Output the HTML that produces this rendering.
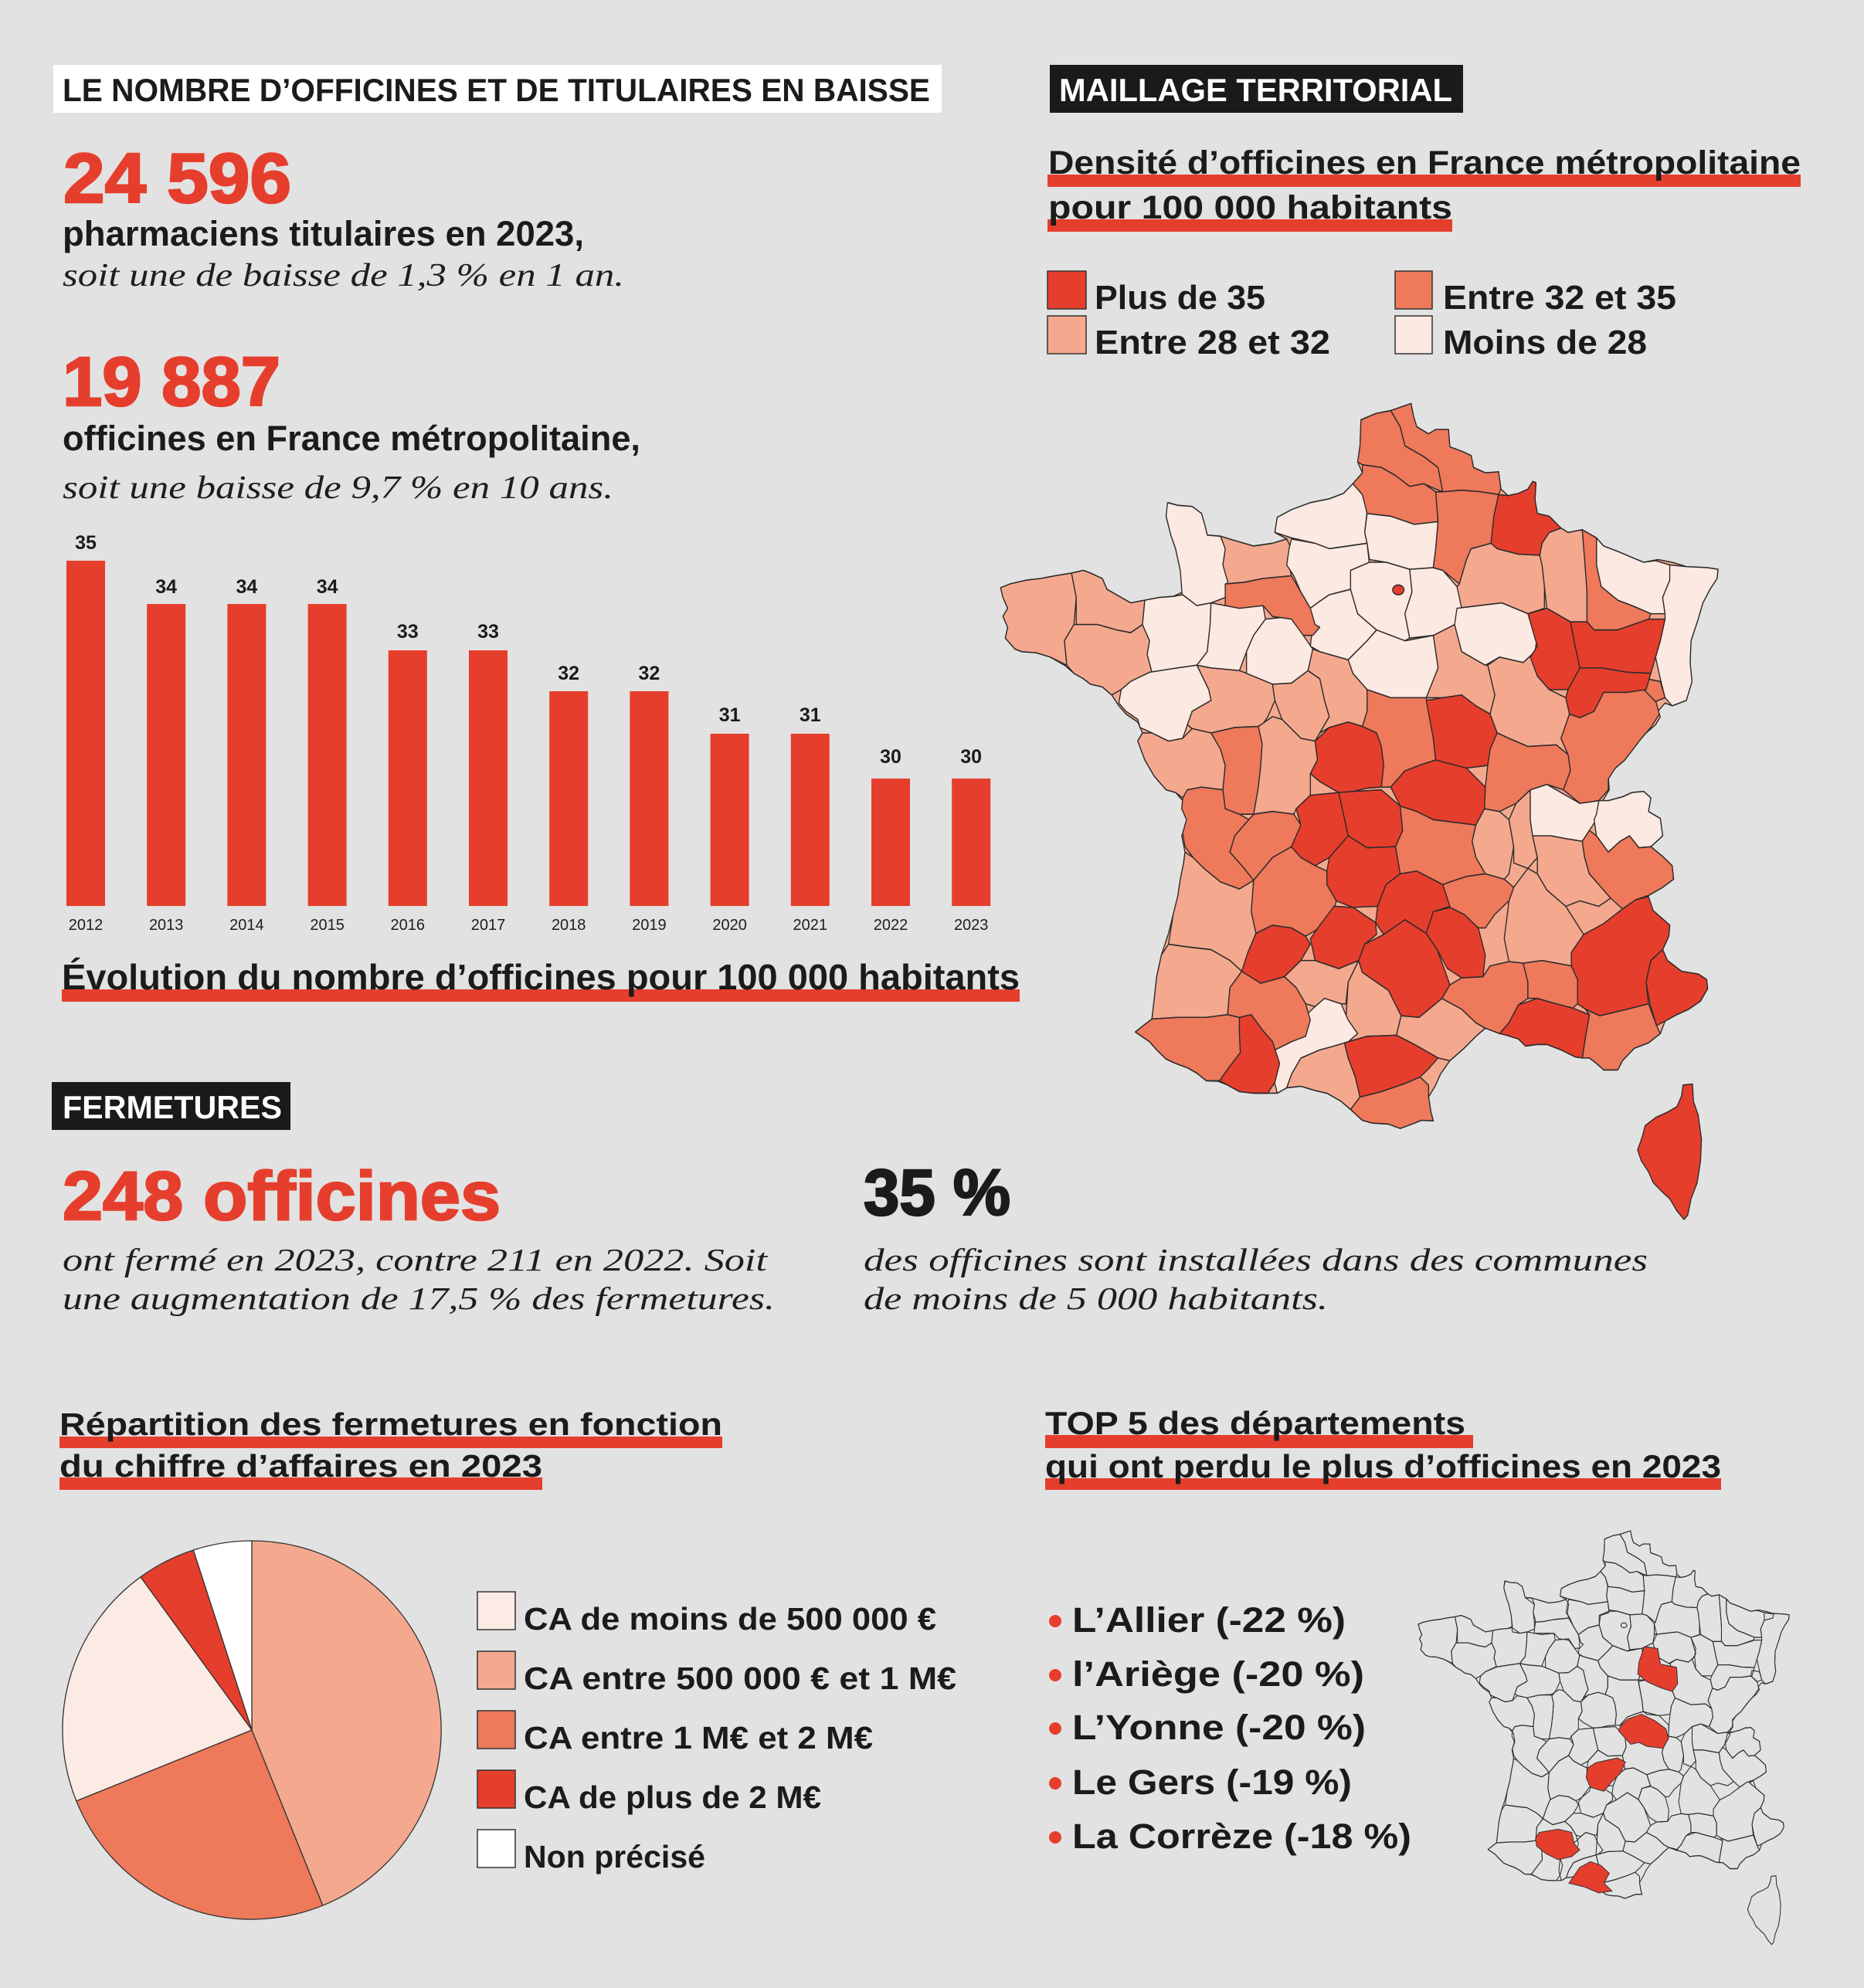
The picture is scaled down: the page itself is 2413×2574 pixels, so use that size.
<!DOCTYPE html>
<html><head><meta charset="utf-8"><style>
html,body{margin:0;padding:0;background:#e2e2e2}
svg{display:block}
.b{font-family:"Liberation Sans",Arial,sans-serif;font-weight:700;fill:#1b1b1b}
.i{font-family:"Liberation Serif",serif;font-style:italic;fill:#1e1e1e}
.w{fill:#fff}
.rd{fill:#e63e2d}
</style></head><body>
<svg xmlns="http://www.w3.org/2000/svg" xmlns:xlink="http://www.w3.org/1999/xlink" width="2413" height="2574" viewBox="0 0 2413 2574">
<defs>
<g id="geo" stroke="#2b2b2b" stroke-linejoin="round">
<g style="fill:var(--S)">
<polygon points="787,62 820,50 850,45 893,32 898,55 905,75 930,88 945,80 972,80 975,112 1000,120 1020,128 1025,150 1050,160 1078,158 1083,190 1098,202 1120,198 1140,190 1150,176 1157,178 1155,210 1160,235 1185,240 1210,262 1225,270 1255,265 1285,280 1300,295 1330,305 1365,318 1385,325 1415,320 1445,325 1475,333 1520,335 1542,338 1540,355 1525,375 1510,400 1500,430 1485,470 1483,510 1487,545 1475,580 1445,590 1430,585 1415,600 1420,610 1410,625 1390,640 1370,660 1345,690 1325,705 1310,720 1312,745 1295,770 1310,765 1340,758 1360,750 1385,748 1400,760 1395,785 1420,798 1425,830 1400,850 1425,868 1445,885 1448,910 1425,925 1395,940 1380,950 1405,968 1440,995 1438,1015 1425,1040 1435,1060 1465,1080 1500,1085 1518,1095 1520,1112 1505,1135 1480,1150 1455,1160 1430,1172 1420,1195 1395,1212 1365,1222 1340,1245 1330,1262 1300,1262 1285,1250 1270,1240 1240,1238 1210,1225 1180,1215 1160,1215 1135,1218 1120,1205 1095,1198 1075,1190 1050,1185 1030,1200 1005,1222 975,1245 955,1270 945,1290 930,1312 935,1340 940,1356 915,1355 895,1362 870,1370 845,1362 810,1360 790,1355 765,1335 745,1320 715,1305 690,1300 660,1292 630,1295 610,1305 590,1305 560,1305 530,1302 505,1290 485,1283 460,1282 440,1268 420,1258 395,1250 375,1242 355,1225 340,1210 310,1192 330,1178 345,1168 350,1130 355,1090 365,1050 380,1010 390,975 400,940 405,910 412,880 415,860 408,830 420,800 415,770 395,750 375,745 350,720 330,690 315,655 325,640 315,620 290,605 275,590 260,570 240,555 215,550 200,540 180,530 160,515 130,500 100,492 70,490 55,485 35,465 40,445 30,425 40,410 30,390 25,372 45,365 80,358 110,355 140,350 175,345 200,340 215,345 240,355 250,375 270,385 300,400 330,395 360,390 390,388 410,380 405,340 395,300 385,275 375,240 380,215 400,220 430,222 450,235 458,260 462,275 490,277 520,285 560,295 600,290 630,282 605,270 610,242 640,228 680,215 720,208 750,198 770,180 790,160 780,140 785,110"/>
<polygon points="25,372 45,365 80,358 110,355 140,350 175,345 185,390 180,440 160,470 165,515 130,500 100,492 70,490 55,485 35,465 40,445 30,425 40,410 30,390"/>
<polygon points="175,345 200,340 215,345 240,355 250,375 270,385 300,400 330,395 325,440 300,455 270,450 230,440 185,440 185,390"/>
<polygon points="185,440 230,440 270,450 300,455 325,440 340,470 335,495 345,528 300,545 280,560 260,570 240,555 215,550 200,540 180,530 165,515 160,470 180,440"/>
<polygon points="462,275 490,277 520,285 560,295 600,290 630,282 640,300 635,330 640,350 580,355 540,362 500,365 495,330 500,300"/>
<polygon points="440,515 470,520 530,525 545,530 600,550 605,580 590,610 575,630 520,630 470,640 430,632 420,625 430,600 470,580 465,560"/>
<polygon points="600,550 640,548 675,525 700,540 710,580 720,610 700,640 690,655 660,650 620,615 605,580"/>
<polygon points="675,525 685,485 700,490 760,505 770,530 800,560 800,600 790,628 760,620 720,630 700,640 720,610 710,580 700,540"/>
<polygon points="315,655 325,640 345,640 380,655 410,650 430,632 470,640 490,670 500,700 495,745 450,740 420,745 410,760 395,750 375,745 350,720 330,690"/>
<polygon points="570,628 600,610 620,615 660,650 690,655 695,690 680,715 680,755 650,780 645,790 600,785 560,790 570,740 575,700 578,660"/>
<polygon points="415,860 432,870 455,890 490,915 530,928 560,912 555,970 565,1010 548,1045 535,1080 510,1060 470,1040 420,1035 380,1030 390,975 400,940 405,910 412,880"/>
<polygon points="345,1168 350,1130 355,1090 365,1050 380,1030 420,1035 470,1040 510,1060 535,1080 510,1110 505,1160 460,1165 400,1165"/>
<polygon points="1062,290 1075,300 1120,310 1165,312 1170,330 1175,370 1175,410 1140,420 1085,400 990,410 990,370 995,365 1010,320 1020,300"/>
<polygon points="1165,312 1170,290 1185,270 1210,262 1225,270 1255,265 1260,320 1265,380 1265,435 1230,435 1180,410 1175,370 1170,330"/>
<polygon points="1055,515 1080,500 1130,510 1155,490 1160,535 1185,560 1220,575 1228,605 1210,650 1225,680 1200,662 1140,665 1100,650 1075,640 1060,605 1070,570"/>
<polygon points="925,575 950,520 940,460 985,440 1000,490 1050,515 1055,515 1070,570 1060,605 1030,590 1000,570 960,575"/>
<polygon points="1030,810 1048,780 1080,785 1100,800 1110,850 1100,900 1090,910 1050,900 1030,870 1022,840"/>
<polygon points="1100,800 1115,770 1145,745 1145,800 1150,830 1160,870 1140,890 1110,880 1110,850"/>
<polygon points="1150,830 1190,830 1220,835 1255,840 1260,870 1270,900 1290,920 1315,945 1290,960 1250,950 1220,960 1180,930 1160,900 1160,870"/>
<polygon points="1110,925 1140,890 1160,900 1180,930 1220,960 1258,1012 1232,1045 1232,1070 1170,1060 1130,1065 1100,1062 1090,1020 1100,950"/>
<polygon points="782,1060 790,1082 845,1115 872,1162 862,1198 800,1200 752,1212 755,1170 760,1100"/>
<polygon points="872,1162 910,1165 958,1130 1000,1150 1030,1175 1050,1185 1030,1200 1005,1222 975,1245 950,1240 900,1215 862,1198"/>
<polygon points="660,1060 690,1060 740,1075 782,1060 760,1100 755,1140 745,1140 710,1130 690,1145 670,1140 650,1110 625,1090"/>
<polygon points="640,1270 660,1240 700,1225 752,1212 760,1240 775,1275 785,1312 765,1335 745,1320 715,1305 690,1300 660,1292 630,1295"/>
</g>
<g style="fill:var(--L)">
<polygon points="378,215 400,220 430,222 450,235 458,260 462,275 490,277 500,300 495,330 505,360 500,390 470,400 440,405 410,400 405,340 395,300 385,275 375,240"/>
<polygon points="330,395 360,390 390,388 410,385 440,405 470,400 468,440 462,490 440,515 400,520 345,528 335,495 340,470 325,440"/>
<polygon points="470,400 500,405 580,405 585,430 560,460 545,490 530,525 470,520 440,515 462,490 468,440"/>
<polygon points="585,430 640,425 665,460 685,485 675,525 640,548 600,550 545,530 545,490 560,460"/>
<polygon points="280,560 300,545 340,528 400,520 440,515 465,560 470,580 430,600 420,625 410,650 380,655 345,640 320,630 315,615 290,600 275,585"/>
<polygon points="605,270 610,242 640,228 680,215 720,208 750,198 770,180 790,200 800,230 795,270 800,290 760,295 720,300 690,290 640,280"/>
<polygon points="640,282 690,290 720,300 760,295 800,290 805,330 770,340 765,375 720,385 695,400 680,410 660,380 645,350 630,330 635,300"/>
<polygon points="800,235 850,240 900,255 950,250 945,300 940,335 890,338 840,325 805,320 800,290 795,270"/>
<polygon points="680,410 695,400 720,385 765,375 780,420 820,450 800,470 760,505 700,490 680,480 685,440"/>
<polygon points="765,340 805,325 840,325 890,338 895,380 880,420 890,465 880,470 820,450 780,420 765,375"/>
<polygon points="890,338 940,335 960,340 990,370 1000,410 985,440 940,460 890,465 880,420 895,380"/>
<polygon points="800,470 820,450 880,470 940,460 950,520 925,575 850,575 800,560 770,530 760,505"/>
<polygon points="990,410 1085,400 1140,420 1160,460 1155,490 1130,510 1080,500 1050,515 1000,490 985,440"/>
<polygon points="1285,280 1300,295 1330,305 1365,318 1385,325 1410,322 1440,330 1478,335 1475,350 1440,358 1425,390 1430,420 1400,420 1360,405 1330,395 1295,370 1285,330"/>
<polygon points="1440,330 1475,333 1520,335 1542,338 1540,355 1525,375 1510,400 1500,430 1485,470 1483,510 1487,545 1475,580 1445,590 1430,575 1420,540 1410,500 1420,470 1430,430 1430,420 1425,390 1440,358"/>
<polygon points="1145,745 1180,735 1210,750 1250,770 1290,765 1300,775 1285,800 1270,820 1255,840 1220,835 1190,830 1150,830 1145,800"/>
<polygon points="1290,765 1310,765 1340,758 1360,750 1385,748 1400,760 1395,785 1420,798 1425,830 1400,850 1375,852 1355,830 1335,840 1310,860 1285,830 1280,800 1285,790"/>
<polygon points="610,1305 600,1270 605,1225 640,1210 660,1170 690,1145 710,1130 745,1140 760,1170 780,1195 760,1210 730,1218 700,1225 660,1240 640,1270 630,1295"/>
</g>
<g style="fill:var(--O)">
<polygon points="787,62 820,50 850,45 870,75 880,110 920,130 950,150 960,195 945,190 920,180 890,185 860,165 830,150 790,145 780,140 785,110"/>
<polygon points="850,45 893,32 898,55 905,75 930,88 945,80 972,80 975,112 1000,120 1020,128 1025,150 1050,160 1078,158 1083,190 1078,200 1040,195 1000,192 960,195 950,150 920,130 880,110 870,75"/>
<polygon points="790,145 830,150 860,165 890,185 920,180 945,195 950,250 900,255 850,240 800,235 790,200 770,180 790,160"/>
<polygon points="945,195 960,195 1000,192 1040,195 1078,200 1068,240 1062,290 1020,300 1010,320 995,365 960,340 940,335 945,300 950,250"/>
<polygon points="500,365 540,362 580,355 640,350 660,380 680,410 690,440 700,445 685,460 665,460 640,430 600,425 580,405 530,410 500,405"/>
<polygon points="1255,265 1285,280 1285,330 1295,370 1330,395 1360,405 1400,420 1395,432 1330,450 1280,450 1265,435 1265,380 1260,320"/>
<polygon points="470,640 520,630 570,628 578,660 575,700 570,740 560,790 530,790 500,780 495,745 500,700 490,670"/>
<polygon points="410,760 420,745 450,740 495,745 500,780 530,790 550,800 520,830 510,860 540,890 560,912 530,928 490,915 455,890 432,870 415,850 410,825 418,800 408,780"/>
<polygon points="520,830 550,800 560,790 600,785 645,790 660,810 640,850 600,870 560,912 540,890 510,860"/>
<polygon points="560,912 600,870 640,850 660,870 690,885 715,895 715,920 735,950 725,980 690,1005 670,1015 640,1000 600,995 565,1010 555,970"/>
<polygon points="800,560 850,575 925,575 940,650 945,690 910,700 880,710 850,740 830,740 835,700 830,665 820,640 790,628 800,600"/>
<polygon points="1055,700 1060,670 1075,640 1100,650 1140,665 1200,662 1225,680 1230,710 1215,745 1180,735 1145,745 1115,770 1080,785 1048,780 1050,740"/>
<polygon points="1228,605 1250,612 1280,600 1300,565 1350,565 1385,560 1410,580 1418,605 1400,630 1380,650 1345,690 1325,705 1310,725 1310,745 1290,765 1250,770 1215,745 1230,710 1225,680 1210,650"/>
<polygon points="1390,540 1420,545 1430,575 1410,582 1385,560"/>
<polygon points="870,775 905,785 940,800 985,805 1030,810 1022,840 1030,870 1050,900 1010,905 975,915 960,920 905,895 870,900 860,850 875,820"/>
<polygon points="975,915 1010,905 1050,900 1090,910 1110,925 1100,950 1070,975 1050,1000 1035,1000 1005,975 975,962 960,920"/>
<polygon points="958,1130 975,1105 1000,1092 1045,1090 1060,1070 1100,1062 1130,1065 1140,1100 1140,1130 1120,1142 1100,1175 1080,1195 1050,1185 1030,1175 1000,1150"/>
<polygon points="1255,840 1270,820 1285,830 1310,860 1335,840 1355,830 1375,852 1400,850 1425,868 1445,885 1448,910 1425,925 1395,940 1368,948 1340,965 1315,945 1290,920 1270,900 1260,870"/>
<polygon points="1130,1065 1170,1060 1232,1070 1245,1095 1245,1140 1235,1148 1200,1140 1160,1130 1140,1130 1140,1100"/>
<polygon points="1262,1150 1292,1162 1340,1152 1395,1140 1412,1180 1420,1195 1395,1212 1365,1222 1340,1245 1330,1262 1300,1262 1285,1250 1270,1240 1255,1240 1262,1200 1270,1160"/>
<polygon points="310,1192 330,1178 345,1168 400,1165 460,1165 505,1160 530,1165 530,1195 532,1230 510,1255 488,1282 460,1282 440,1268 420,1258 395,1250 375,1242 355,1225 340,1210"/>
<polygon points="510,1110 535,1080 575,1102 625,1090 650,1110 670,1140 680,1170 670,1200 640,1210 605,1225 600,1210 580,1190 555,1160 530,1165 505,1160"/>
<polygon points="785,1312 830,1302 880,1287 912,1275 930,1290 930,1312 935,1340 940,1356 915,1355 895,1362 870,1370 845,1362 810,1360 790,1355 765,1335"/>
</g>
<g style="fill:var(--R)">
<polygon points="1078,200 1098,202 1120,198 1140,190 1150,176 1157,178 1155,210 1160,235 1185,240 1210,262 1185,270 1170,290 1165,312 1120,310 1075,300 1062,290 1068,240"/>
<polygon points="1140,420 1180,410 1230,435 1240,480 1250,520 1225,560 1185,560 1160,535 1145,500 1160,480"/>
<polygon points="1230,435 1265,435 1280,450 1330,450 1395,430 1430,430 1420,470 1410,500 1400,530 1350,528 1295,520 1250,520 1240,480"/>
<polygon points="1225,560 1250,520 1295,520 1350,528 1400,530 1390,560 1350,565 1300,565 1280,600 1250,612 1228,605 1220,575"/>
<polygon points="690,655 720,630 760,620 790,628 820,640 830,665 835,700 830,740 800,742 770,748 740,750 700,730 680,715 695,690"/>
<polygon points="925,580 960,575 1000,570 1030,590 1060,605 1075,640 1060,670 1055,700 1010,705 960,700 945,690 940,650"/>
<polygon points="850,740 880,710 910,700 945,690 1010,705 1050,740 1048,780 1030,810 985,805 940,800 905,785 870,775"/>
<polygon points="640,850 660,810 650,780 680,755 740,750 760,830 720,870 690,885 660,870"/>
<polygon points="740,750 770,748 830,745 870,775 875,820 860,850 800,852 760,830"/>
<polygon points="715,895 720,870 760,830 800,852 860,850 870,900 840,920 822,960 770,962 735,950 715,920"/>
<polygon points="822,960 840,920 870,900 905,895 960,920 975,960 940,970 925,1010 880,985 835,1012 818,990"/>
<polygon points="925,1010 940,970 975,962 1005,975 1035,1000 1050,1050 1045,1090 1000,1092 970,1075 948,1040"/>
<polygon points="680,1020 700,995 730,960 770,962 818,990 820,1012 795,1030 782,1060 740,1075 690,1060"/>
<polygon points="795,1030 835,1012 880,985 925,1010 948,1040 965,1080 975,1105 958,1130 910,1165 872,1162 845,1115 790,1082 782,1060"/>
<polygon points="535,1080 548,1045 565,1010 600,995 640,1000 670,1015 680,1030 660,1060 625,1090 575,1102"/>
<polygon points="530,1165 555,1160 580,1190 600,1210 615,1250 605,1285 590,1305 560,1305 530,1302 505,1290 488,1282 510,1255 532,1230 530,1195"/>
<polygon points="752,1212 800,1200 862,1198 900,1215 950,1240 930,1260 912,1275 880,1287 830,1302 785,1312 775,1275 760,1240"/>
<polygon points="1080,1195 1100,1175 1120,1142 1160,1130 1200,1140 1235,1148 1270,1160 1262,1200 1255,1240 1240,1238 1210,1225 1180,1215 1160,1215 1135,1218 1120,1205 1095,1198"/>
<polygon points="1232,1045 1258,1012 1300,992 1340,965 1368,948 1395,942 1405,968 1440,995 1438,1015 1425,1040 1400,1060 1390,1100 1395,1140 1340,1152 1292,1162 1262,1150 1245,1140 1245,1095 1232,1070"/>
<polygon points="1400,1060 1425,1040 1435,1060 1465,1080 1500,1085 1518,1095 1520,1112 1505,1135 1480,1150 1455,1160 1430,1172 1412,1180 1398,1140 1390,1100"/>
<polygon points="1468,1290 1488,1288 1490,1320 1500,1345 1507,1390 1505,1430 1498,1470 1485,1500 1478,1530 1470,1538 1455,1522 1440,1500 1425,1488 1405,1470 1395,1450 1380,1430 1372,1410 1382,1385 1388,1365 1410,1350 1435,1340 1455,1330 1465,1310"/>
<ellipse cx="866" cy="376" rx="12" ry="9"/>
</g>
</g>
</defs>

<rect width="2413" height="2574" fill="#e2e2e2"/>

<!-- Header left -->
<rect x="69" y="84" width="1150" height="62" fill="#ffffff"/>
<text x="81" y="131" font-size="42" class="b" textLength="1123" lengthAdjust="spacingAndGlyphs">LE NOMBRE D’OFFICINES ET DE TITULAIRES EN BAISSE</text>

<text x="82" y="262" font-size="91" class="b rd" stroke="#e63e2d" stroke-width="2.5" textLength="295" lengthAdjust="spacingAndGlyphs">24 596</text>
<text x="81" y="318" font-size="45" class="b" textLength="675" lengthAdjust="spacingAndGlyphs">pharmaciens titulaires en 2023,</text>
<text x="81" y="370" font-size="42" class="i" textLength="727" lengthAdjust="spacingAndGlyphs">soit une de baisse de 1,3 % en 1 an.</text>

<text x="81" y="525" font-size="90" class="b rd" stroke="#e63e2d" stroke-width="2.5" textLength="282" lengthAdjust="spacingAndGlyphs">19 887</text>
<text x="81" y="583" font-size="45" class="b" textLength="748" lengthAdjust="spacingAndGlyphs">officines en France métropolitaine,</text>
<text x="81" y="645" font-size="42" class="i" textLength="713" lengthAdjust="spacingAndGlyphs">soit une baisse de 9,7 % en 10 ans.</text>

<!-- Bars -->
<g fill="#e63e2d">
<rect x="86" y="726" width="50" height="447"/>
<rect x="190.2" y="782" width="50" height="391"/>
<rect x="294.4" y="782" width="50" height="391"/>
<rect x="398.6" y="782" width="50" height="391"/>
<rect x="502.8" y="842" width="50" height="331"/>
<rect x="607" y="842" width="50" height="331"/>
<rect x="711.2" y="895" width="50" height="278"/>
<rect x="815.4" y="895" width="50" height="278"/>
<rect x="919.6" y="950" width="50" height="223"/>
<rect x="1023.8" y="950" width="50" height="223"/>
<rect x="1128" y="1008" width="50" height="165"/>
<rect x="1232.2" y="1008" width="50" height="165"/>
</g>
<g class="b" font-size="25" text-anchor="middle">
<text x="111" y="711" class="b">35</text>
<text x="215.2" y="768" class="b">34</text>
<text x="319.4" y="768" class="b">34</text>
<text x="423.6" y="768" class="b">34</text>
<text x="527.8" y="826" class="b">33</text>
<text x="632" y="826" class="b">33</text>
<text x="736.2" y="880" class="b">32</text>
<text x="840.4" y="880" class="b">32</text>
<text x="944.6" y="934" class="b">31</text>
<text x="1048.8" y="934" class="b">31</text>
<text x="1153" y="988" class="b">30</text>
<text x="1257.2" y="988" class="b">30</text>
</g>
<g font-family="Liberation Sans, Arial, sans-serif" font-size="20" fill="#1e1e1e" text-anchor="middle">
<text x="111" y="1204">2012</text>
<text x="215.2" y="1204">2013</text>
<text x="319.4" y="1204">2014</text>
<text x="423.6" y="1204">2015</text>
<text x="527.8" y="1204">2016</text>
<text x="632" y="1204">2017</text>
<text x="736.2" y="1204">2018</text>
<text x="840.4" y="1204">2019</text>
<text x="944.6" y="1204">2020</text>
<text x="1048.8" y="1204">2021</text>
<text x="1153" y="1204">2022</text>
<text x="1257.2" y="1204">2023</text>
</g>

<rect x="80" y="1281" width="1240" height="16" fill="#e63e2d"/>
<text x="80" y="1281" font-size="46" class="b" textLength="1240" lengthAdjust="spacingAndGlyphs">Évolution du nombre d’officines pour 100 000 habitants</text>

<!-- Right header -->
<rect x="1359" y="84" width="535" height="62" fill="#1a1a18"/>
<text x="1371" y="131" font-size="42" class="b w" textLength="509" lengthAdjust="spacingAndGlyphs">MAILLAGE TERRITORIAL</text>

<rect x="1356" y="226" width="975" height="16" fill="#e63e2d"/>
<text x="1357" y="225" font-size="43" class="b" textLength="974" lengthAdjust="spacingAndGlyphs">Densité d’officines en France métropolitaine</text>
<rect x="1356" y="284" width="524" height="16" fill="#e63e2d"/>
<text x="1357" y="283" font-size="43" class="b" textLength="523" lengthAdjust="spacingAndGlyphs">pour 100 000 habitants</text>

<!-- map legend -->
<g stroke="#333" stroke-width="1.5">
<rect x="1356" y="351" width="50" height="49" fill="#e63e2d"/>
<rect x="1806" y="351" width="48" height="49" fill="#ee795b"/>
<rect x="1356" y="409" width="50" height="49" fill="#f4a98f"/>
<rect x="1806" y="409" width="48" height="49" fill="#fce9e1"/>
</g>
<text x="1417" y="400" font-size="44" class="b" textLength="221" lengthAdjust="spacingAndGlyphs">Plus de 35</text>
<text x="1868" y="400" font-size="44" class="b" textLength="302" lengthAdjust="spacingAndGlyphs">Entre 32 et 35</text>
<text x="1417" y="458" font-size="44" class="b" textLength="305" lengthAdjust="spacingAndGlyphs">Entre 28 et 32</text>
<text x="1868" y="458" font-size="44" class="b" textLength="264" lengthAdjust="spacingAndGlyphs">Moins de 28</text>

<!-- Big map -->
<use xlink:href="#geo" href="#geo" transform="translate(1280,500) scale(0.6122,0.7015)" stroke-width="2.2" style="--S:#f4a98f;--L:#fce9e1;--O:#ee795b;--R:#e63e2d"/>

<!-- FERMETURES -->
<rect x="67" y="1401" width="309" height="62" fill="#1a1a18"/>
<text x="81" y="1448" font-size="42" class="b w" textLength="284" lengthAdjust="spacingAndGlyphs">FERMETURES</text>

<text x="81" y="1579" font-size="89" class="b rd" stroke="#e63e2d" stroke-width="2.5" textLength="567" lengthAdjust="spacingAndGlyphs">248 officines</text>
<text x="81" y="1645" font-size="41" class="i" textLength="912" lengthAdjust="spacingAndGlyphs">ont fermé en 2023, contre 211 en 2022. Soit</text>
<text x="81" y="1695" font-size="41" class="i" textLength="922" lengthAdjust="spacingAndGlyphs">une augmentation de 17,5 % des fermetures.</text>

<text x="1118" y="1573" font-size="84" class="b" stroke="#1b1b1b" stroke-width="2.5" textLength="190" lengthAdjust="spacingAndGlyphs">35 %</text>
<text x="1118" y="1645" font-size="41" class="i" textLength="1015" lengthAdjust="spacingAndGlyphs">des officines sont installées dans des communes</text>
<text x="1118" y="1695" font-size="41" class="i" textLength="601" lengthAdjust="spacingAndGlyphs">de moins de 5 000 habitants.</text>

<!-- Pie section -->
<rect x="77" y="1860" width="858" height="15" fill="#e63e2d"/>
<text x="77" y="1858" font-size="41" class="b" textLength="858" lengthAdjust="spacingAndGlyphs">Répartition des fermetures en fonction</text>
<rect x="77" y="1913" width="625" height="16" fill="#e63e2d"/>
<text x="77" y="1912" font-size="41" class="b" textLength="625" lengthAdjust="spacingAndGlyphs">du chiffre d’affaires en 2023</text>

<g stroke="#333" stroke-width="1.3" stroke-linejoin="round">
<path d="M326,2240 L326,1995 A245,245 0 0 1 417.8,2467.2 Z" fill="#f4a98f"/>
<path d="M326,2240 L417.8,2467.2 A245,245 0 0 1 98.8,2331.8 Z" fill="#ee795b"/>
<path d="M326,2240 L98.8,2331.8 A245,245 0 0 1 182,2041.8 Z" fill="#fcebe4"/>
<path d="M326,2240 L182,2041.8 A245,245 0 0 1 250.3,2007 Z" fill="#e63e2d"/>
<path d="M326,2240 L250.3,2007 A245,245 0 0 1 326,1995 Z" fill="#ffffff"/>
</g>

<g stroke="#333" stroke-width="1.5">
<rect x="618" y="2061" width="49" height="49" fill="#fcebe4"/>
<rect x="618" y="2138" width="49" height="49" fill="#f4a98f"/>
<rect x="618" y="2215" width="49" height="49" fill="#ee795b"/>
<rect x="618" y="2292" width="49" height="49" fill="#e63e2d"/>
<rect x="618" y="2369" width="49" height="49" fill="#ffffff"/>
</g>
<text x="678" y="2110" font-size="41" class="b" textLength="534" lengthAdjust="spacingAndGlyphs">CA de moins de 500 000 €</text>
<text x="678" y="2187" font-size="41" class="b" textLength="560" lengthAdjust="spacingAndGlyphs">CA entre 500 000 € et 1 M€</text>
<text x="678" y="2264" font-size="41" class="b" textLength="452" lengthAdjust="spacingAndGlyphs">CA entre 1 M€ et 2 M€</text>
<text x="678" y="2341" font-size="41" class="b" textLength="385" lengthAdjust="spacingAndGlyphs">CA de plus de 2 M€</text>
<text x="678" y="2418" font-size="41" class="b" textLength="235" lengthAdjust="spacingAndGlyphs">Non précisé</text>

<!-- Top 5 -->
<rect x="1353" y="1858" width="554" height="17" fill="#e63e2d"/>
<text x="1353" y="1857" font-size="42" class="b" textLength="544" lengthAdjust="spacingAndGlyphs">TOP 5 des départements</text>
<rect x="1353" y="1914" width="875" height="15" fill="#e63e2d"/>
<text x="1353" y="1913" font-size="42" class="b" textLength="875" lengthAdjust="spacingAndGlyphs">qui ont perdu le plus d’officines en 2023</text>

<g fill="#e63e2d">
<circle cx="1366" cy="2099" r="8"/>
<circle cx="1366" cy="2169" r="8"/>
<circle cx="1366" cy="2238" r="8"/>
<circle cx="1366" cy="2309" r="8"/>
<circle cx="1366" cy="2379" r="8"/>
</g>
<text x="1388" y="2113" font-size="45" class="b" textLength="354" lengthAdjust="spacingAndGlyphs">L’Allier (-22 %)</text>
<text x="1388" y="2183" font-size="45" class="b" textLength="378" lengthAdjust="spacingAndGlyphs">l’Ariège (-20 %)</text>
<text x="1388" y="2252" font-size="45" class="b" textLength="380" lengthAdjust="spacingAndGlyphs">L’Yonne (-20 %)</text>
<text x="1388" y="2323" font-size="45" class="b" textLength="362" lengthAdjust="spacingAndGlyphs">Le Gers (-19 %)</text>
<text x="1388" y="2393" font-size="45" class="b" textLength="439" lengthAdjust="spacingAndGlyphs">La Corrèze (-18 %)</text>

<!-- Small map -->
<use xlink:href="#geo" href="#geo" transform="translate(1828.1,1970.6) scale(0.3165,0.3557)" stroke-width="3.2" style="--S:none;--L:none;--O:none;--R:none"/>
<g fill="#e63e2d" stroke="#333" stroke-width="1">
<polygon points="2128.6,2131.9 2146,2134.5 2149.5,2154.7 2170.4,2158.8 2171.8,2180 2164.8,2190.2 2149.5,2185.1 2132.1,2177.5 2120.2,2167.4 2121.6,2152.2 2125.1,2142.1"/>
<polygon points="2107.7,2225.6 2125.1,2219.5 2142.5,2228.1 2156.5,2238.3 2160,2250.9 2153,2263.6 2132.1,2261.1 2121.6,2256 2111.2,2258.5 2104.2,2250.9 2095.1,2240.8 2099.3,2233.2"/>
<polygon points="2065.9,2282.3 2093.7,2276.2 2104.2,2281.3 2097.2,2296.5 2086.8,2306.6 2076.3,2319.3 2058.9,2314.2 2053.3,2301.6 2055.4,2288.9"/>
<polygon points="1992.7,2372.5 2017.1,2368.4 2034.5,2372.5 2038,2387.6 2045,2395.2 2034.5,2403.9 2017.1,2407.9 2001.7,2400.3 1989.2,2390.2 1987.8,2380.1"/>
<polygon points="2044.9,2418 2058.9,2410.4 2072.8,2415.5 2083.3,2425.6 2076.3,2438.3 2086.8,2448.4 2069.3,2450.9 2051.9,2443.4 2031,2438.3 2038,2428.1"/>
</g>
</svg>
</body></html>
